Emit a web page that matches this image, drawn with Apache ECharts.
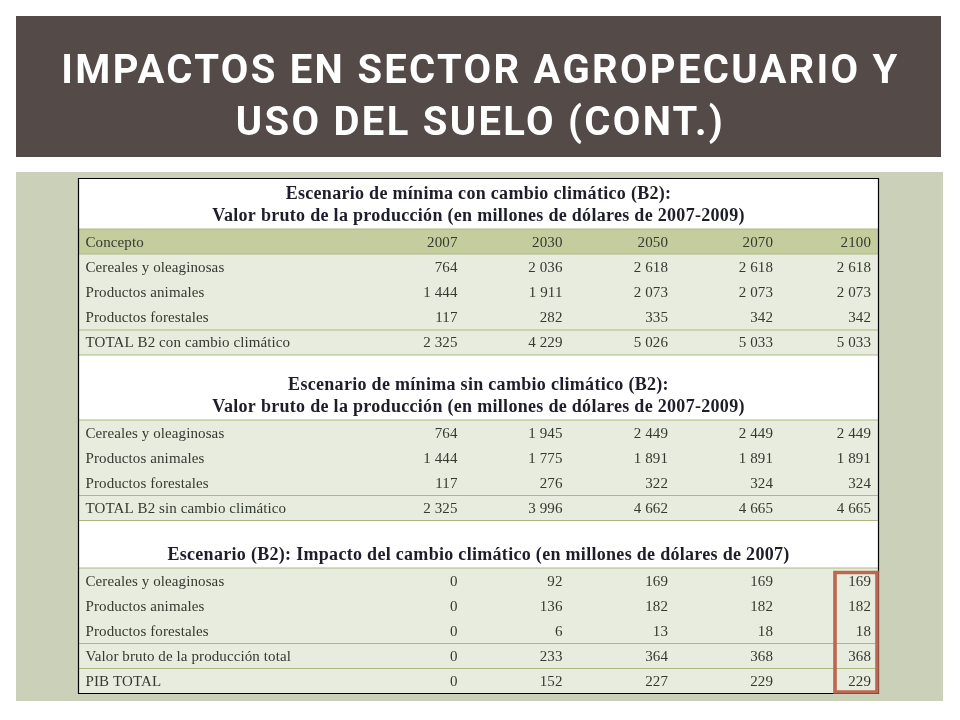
<!DOCTYPE html>
<html>
<head>
<meta charset="utf-8">
<style>
  html, body { margin: 0; padding: 0; background: #fff; }
  #chart { width: 960px; height: 720px; }
</style>
<script src="https://cdn.jsdelivr.net/npm/echarts@6/dist/echarts.min.js"></script>
</head>
<body>
<div id="chart"></div>
<script>
// textos
const slideTitle = 'IMPACTOS EN SECTOR AGROPECUARIO Y\nUSO DEL SUELO (CONT.)'
const headerName = 'Concepto'
const years = ['2007', '2030', '2050', '2070', '2100']

// tabla 1: con cambio climatico
const title1 = ['Escenario de mínima con cambio climático (B2):', 'Valor bruto de la producción (en millones de dólares de 2007-2009)']
const labels1 = ['Cereales y oleaginosas', 'Productos animales', 'Productos forestales', 'TOTAL B2 con cambio climático']
const cereales1 = [764, 2036, 2618, 2618, 2618]
const animales1 = [1444, 1911, 2073, 2073, 2073]
const forestales1 = [117, 282, 335, 342, 342]
const total1 = [2325, 4229, 5026, 5033, 5033]

// tabla 2: sin cambio climatico
const title2 = ['Escenario de mínima sin cambio climático (B2):', 'Valor bruto de la producción (en millones de dólares de 2007-2009)']
const labels2 = ['Cereales y oleaginosas', 'Productos animales', 'Productos forestales', 'TOTAL B2 sin cambio climático']
const cereales2 = [764, 1945, 2449, 2449, 2449]
const animales2 = [1444, 1775, 1891, 1891, 1891]
const forestales2 = [117, 276, 322, 324, 324]
const total2 = [2325, 3996, 4662, 4665, 4665]

// tabla 3: impacto
const title3 = ['Escenario (B2): Impacto del cambio climático (en millones de dólares de 2007)']
const labels3 = ['Cereales y oleaginosas', 'Productos animales', 'Productos forestales', 'Valor bruto de la producción total', 'PIB TOTAL']
const cereales3 = [0, 92, 169, 169, 169]
const animales3 = [0, 136, 182, 182, 182]
const forestales3 = [0, 6, 13, 18, 18]
const valorBruto3 = [0, 233, 364, 368, 368]
const pib3 = [0, 152, 227, 229, 229]

// layout, en pixeles de la pagina
const labelX = 85.5
const colRight = [457.5, 562.5, 668, 773, 871]
const tableLeft = 78.5
const tableRight = 878.5

// los años van sin separador de miles
const fmt = v => typeof v === 'number' ? String(v).replace(/\B(?=(\d{3})+$)/g, ' ') : v

// zrender no tiene letterSpacing, se pone directo en el contexto del canvas
const origFillText = CanvasRenderingContext2D.prototype.fillText
CanvasRenderingContext2D.prototype.fillText = function (...args) {
    const f = this.font
    if (f.indexOf('40px') >= 0) this.letterSpacing = '2.3px'
    else if (f.indexOf('bold') >= 0) this.letterSpacing = '0.3px'
    else this.letterSpacing = '0.1px'
    origFillText.apply(this, args)
    this.letterSpacing = '0px'
}

// cada celda de texto de la tabla
const cells = []
function addRow(y, label, values) {
    cells.push({ x: labelX, y: y, text: label, align: 'left' })
    values.forEach((v, i) => cells.push({ x: colRight[i], y: y, text: fmt(v), align: 'right' }))
}
function addTitle(ys, lines) {
    lines.forEach((t, i) => cells.push({ x: (tableLeft + tableRight) / 2, y: ys[i], text: t, align: 'center', bold: true }))
}

addTitle([194, 216.5], title1)
addRow(243, headerName, years)
addRow(268, labels1[0], cereales1)
addRow(293.5, labels1[1], animales1)
addRow(318.5, labels1[2], forestales1)
addRow(343.5, labels1[3], total1)

addTitle([385, 407], title2)
addRow(434, labels2[0], cereales2)
addRow(459.5, labels2[1], animales2)
addRow(484.5, labels2[2], forestales2)
addRow(509, labels2[3], total2)

addTitle([555], title3)
addRow(582, labels3[0], cereales3)
addRow(607, labels3[1], animales3)
addRow(632.5, labels3[2], forestales3)
addRow(657, labels3[3], valorBruto3)
addRow(682.5, labels3[4], pib3)

// bandas de fondo y lineas
const rect = (x, y, w, h, fill, z) => ({ type: 'rect', z: z, shape: { x: x, y: y, width: w, height: h }, style: { fill: fill } })
const hline = y => ({ type: 'line', z: 1, shape: { x1: tableLeft, y1: y, x2: tableRight, y2: y }, style: { stroke: '#abb980', lineWidth: 1.2 } })

const graphics = [
    rect(16, 16, 925, 141, '#544a48', 0),
    rect(16, 172, 927, 529, '#cbd0b8', 0),
    rect(tableLeft, 178.5, tableRight - tableLeft, 515, '#ffffff', 0),
    rect(tableLeft, 229, tableRight - tableLeft, 25, '#c5cd9e', 0),
    rect(tableLeft, 254, tableRight - tableLeft, 101, '#e8ecdf', 0),
    rect(tableLeft, 420, tableRight - tableLeft, 101, '#e8ecdf', 0),
    rect(tableLeft, 568, tableRight - tableLeft, 125.5, '#e8ecdf', 0)
].concat([229, 254, 330, 355, 420, 495.5, 520.5, 568, 643.5, 668.5].map(hline))

graphics.push({
    type: 'rect', z: 1,
    shape: { x: tableLeft, y: 178.5, width: tableRight - tableLeft, height: 515 },
    style: { fill: 'none', stroke: '#000', lineWidth: 1.2 }
})
// recuadro de la columna 2100
graphics.push({
    type: 'rect', z: 10, zlevel: 1,
    shape: { x: 835, y: 572.5, width: 42, height: 119.5 },
    style: { fill: 'none', stroke: '#bc6750', lineWidth: 3.6 }
})

function renderCell(params, api) {
    const c = cells[params.dataIndex]
    const p = api.coord([c.x, c.y])
    return {
        type: 'text',
        x: p[0],
        y: p[1],
        style: {
            text: c.text,
            textAlign: c.align,
            textVerticalAlign: 'middle',
            fontFamily: '"Liberation Serif", serif',
            fontSize: c.bold ? 18 : 15,
            fontWeight: c.bold ? 'bold' : 'normal',
            fill: c.bold ? '#1d1d2b' : '#333a30'
        }
    }
}

const chart = echarts.init(document.getElementById('chart'), null, { renderer: 'canvas' })
chart.setOption({
    animation: false,
    backgroundColor: '#ffffff',
    title: {
        text: slideTitle,
        left: 475.5,
        top: 42,
        textAlign: 'center',
        textStyle: {
            color: '#ffffff',
            fontFamily: 'Roboto, "Liberation Sans", sans-serif',
            fontSize: 40,
            fontWeight: 'bold',
            lineHeight: 52
        }
    },
    grid: { left: 0, right: 0, top: 0, bottom: 0 },
    xAxis: { type: 'value', min: 0, max: 960, show: false },
    yAxis: { type: 'value', min: 0, max: 720, inverse: true, show: false },
    tooltip: { show: false },
    graphic: graphics,
    series: [{
        type: 'custom',
        name: 'tabla',
        coordinateSystem: 'cartesian2d',
        silent: true,
        clip: false,
        renderItem: renderCell,
        data: cells.map(c => [c.x, c.y])
    }]
})
</script>
</body>
</html>
